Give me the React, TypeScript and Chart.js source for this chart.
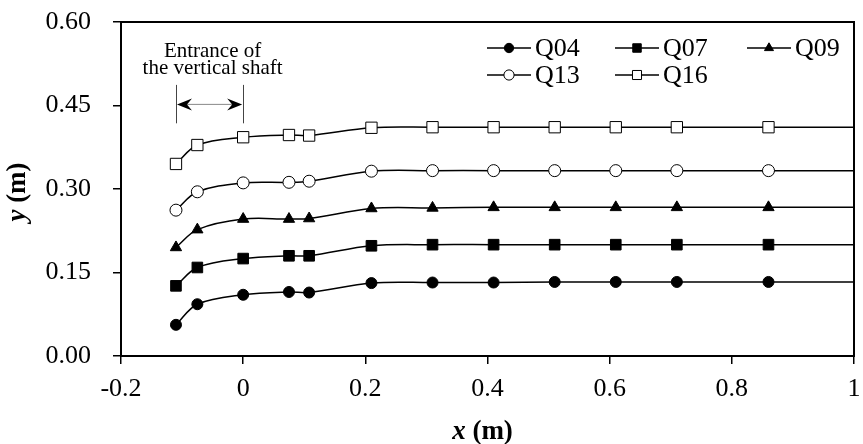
import React, { useEffect, useRef } from "react";
import { Chart, registerables } from "chart.js";

Chart.register(...registerables);

const xValues = [-0.11, -0.075, 0, 0.075, 0.108, 0.21, 0.31, 0.41, 0.51, 0.61, 0.71, 0.86, 1.0];
const q04 = [0.056, 0.093, 0.110, 0.115, 0.114, 0.131, 0.132, 0.132, 0.133, 0.133, 0.133, 0.133, 0.133];
const q07 = [0.126, 0.159, 0.175, 0.180, 0.180, 0.198, 0.200, 0.200, 0.200, 0.200, 0.200, 0.200, 0.200];
const q09 = [0.195, 0.227, 0.246, 0.246, 0.247, 0.265, 0.266, 0.267, 0.267, 0.267, 0.267, 0.267, 0.267];
const q13 = [0.262, 0.295, 0.311, 0.312, 0.314, 0.332, 0.333, 0.333, 0.333, 0.333, 0.333, 0.333, 0.333];
const q16 = [0.345, 0.379, 0.393, 0.397, 0.396, 0.410, 0.411, 0.411, 0.411, 0.411, 0.411, 0.411, 0.411];
const seriesNames = ["Q04", "Q07", "Q09", "Q13", "Q16"];
const xTicks = [-0.2, 0, 0.2, 0.4, 0.6, 0.8, 1.0];
const yTicks = [0, 0.15, 0.3, 0.45, 0.6];
const annotationLines = ["Entrance of", "the vertical shaft"];
const entranceRange = [-0.11, 0];

const FONT = '"Liberation Serif", "Times New Roman", serif';

type Style = { pointStyle: string; radius: number; fill: string };
const styles: Style[] = [
  { pointStyle: "circle", radius: 5.5, fill: "#000" },
  { pointStyle: "rect", radius: 7.5, fill: "#000" },
  { pointStyle: "triangle", radius: 6.5, fill: "#000" },
  { pointStyle: "circle", radius: 6, fill: "#fff" },
  { pointStyle: "rect", radius: 8, fill: "#fff" },
];

const seriesValues = [q04, q07, q09, q13, q16];

function drawMarker(ctx: CanvasRenderingContext2D, st: Style, x: number, y: number, r: number) {
  ctx.save();
  ctx.fillStyle = st.fill;
  ctx.strokeStyle = "#000";
  ctx.lineWidth = 1;
  ctx.beginPath();
  if (st.pointStyle === "circle") {
    ctx.arc(x, y, r, 0, Math.PI * 2);
  } else if (st.pointStyle === "rect") {
    const s = r / Math.SQRT2;
    ctx.rect(x - s, y - s, 2 * s, 2 * s);
  } else {
    const a = (2 * Math.PI) / 3;
    ctx.moveTo(x, y - r);
    ctx.lineTo(x + Math.sin(a) * r, y - Math.cos(a) * r);
    ctx.lineTo(x + Math.sin(2 * a) * r, y - Math.cos(2 * a) * r);
    ctx.closePath();
  }
  ctx.fill();
  ctx.stroke();
  ctx.restore();
}

const decorPlugin = {
  id: "decor",
  afterDraw(chart: any) {
    const ctx: CanvasRenderingContext2D = chart.ctx;
    const ca = chart.chartArea;
    const xs = chart.scales.x;
    const ys = chart.scales.y;
    ctx.save();
    // frame
    ctx.strokeStyle = "#000";
    ctx.lineWidth = 2;
    ctx.strokeRect(ca.left, ca.top, ca.right - ca.left, ca.bottom - ca.top);

    // legend
    const colX = [487, 615, 747];
    const rowY = [48, 75];
    seriesNames.forEach((name, i) => {
      const col = i < 3 ? i : i - 3;
      const row = i < 3 ? 0 : 1;
      const x0 = colX[col];
      const y0 = rowY[row];
      ctx.strokeStyle = "#000";
      ctx.lineWidth = 1.5;
      ctx.beginPath();
      ctx.moveTo(x0, y0);
      ctx.lineTo(x0 + 44, y0);
      ctx.stroke();
      const st = styles[i];
      drawMarker(ctx, st, x0 + 22, y0, st.radius * (st.pointStyle === "circle" ? 0.85 : 0.8));
      ctx.fillStyle = "#000";
      ctx.font = `26px ${FONT}`;
      ctx.textBaseline = "middle";
      ctx.textAlign = "left";
      ctx.fillText(name, x0 + 48, y0 + 1);
    });

    // annotation
    const xa = xs.getPixelForValue(entranceRange[0]);
    const xb = xs.getPixelForValue(entranceRange[1]);
    const yTop = ys.getPixelForValue(0.487);
    const yBot = ys.getPixelForValue(0.418);
    const yArr = ys.getPixelForValue(0.452);
    ctx.strokeStyle = "#444";
    ctx.lineWidth = 1;
    [xa, xb].forEach((x) => {
      ctx.beginPath();
      ctx.moveTo(Math.round(x) + 0.5, yTop);
      ctx.lineTo(Math.round(x) + 0.5, yBot);
      ctx.stroke();
    });
    ctx.strokeStyle = "#888";
    ctx.beginPath();
    ctx.moveTo(xa + 8, yArr);
    ctx.lineTo(xb - 8, yArr);
    ctx.stroke();
    ctx.fillStyle = "#000";
    const head = (tip: number, dir: number) => {
      ctx.beginPath();
      ctx.moveTo(tip, yArr);
      ctx.lineTo(tip + dir * 15, yArr - 6);
      ctx.lineTo(tip + dir * 10, yArr);
      ctx.lineTo(tip + dir * 15, yArr + 6);
      ctx.closePath();
      ctx.fill();
    };
    head(xa + 1, 1);
    head(xb - 1, -1);
    ctx.font = `21px ${FONT}`;
    ctx.textAlign = "center";
    ctx.textBaseline = "alphabetic";
    const cx = (xa + xb) / 2 + 3;
    ctx.fillText(annotationLines[0], cx, 57);
    ctx.fillText(annotationLines[1], cx, 74);

    // axis titles
    const drawTitle = (cxp: number, cyp: number, rot: number, v: string) => {
      ctx.save();
      ctx.translate(cxp, cyp);
      ctx.rotate(rot);
      ctx.textBaseline = "middle";
      ctx.textAlign = "left";
      ctx.font = `italic bold 27px ${FONT}`;
      const w1 = ctx.measureText(v).width;
      ctx.font = `bold 27px ${FONT}`;
      const w2 = ctx.measureText(" (m)").width;
      const start = -(w1 + w2) / 2;
      ctx.font = `italic bold 27px ${FONT}`;
      ctx.fillText(v, start, 0);
      ctx.font = `bold 27px ${FONT}`;
      ctx.fillText(" (m)", start + w1, 0);
      ctx.restore();
    };
    drawTitle((ca.left + ca.right) / 2 - 5, 432, 0, "x");
    drawTitle(18, (ca.top + ca.bottom) / 2 + 3, -Math.PI / 2, "y");
    ctx.restore();
  },
};

export default function App() {
  const ref = useRef<HTMLCanvasElement | null>(null);
  useEffect(() => {
    if (!ref.current) return;
    const n = xValues.length;
    const datasets = seriesValues.map((vals, i) => {
      const st = styles[i];
      return {
        label: seriesNames[i],
        data: xValues.map((x, k) => ({ x, y: vals[k] })),
        borderColor: "#000",
        borderWidth: 1.5,
        backgroundColor: st.fill,
        pointBackgroundColor: st.fill,
        pointBorderColor: "#000",
        pointBorderWidth: 1,
        pointStyle: st.pointStyle,
        pointRadius: xValues.map((_, k) => (k === n - 1 ? 0 : st.radius)),
        tension: 0.35,
        fill: false,
      };
    });
    const chart = new Chart(ref.current, {
      type: "line",
      data: { datasets: datasets as any },
      plugins: [decorPlugin],
      options: {
        animation: false,
        responsive: true,
        maintainAspectRatio: false,
        layout: { padding: { top: 22, right: 3, left: 0, bottom: 0 } },
        plugins: { legend: { display: false }, tooltip: { enabled: false } },
        scales: {
          x: {
            type: "linear",
            min: -0.2,
            max: 1.0,
            afterBuildTicks: (s: any) => {
              s.ticks = xTicks.map((v) => ({ value: v }));
            },
            afterFit: (s: any) => {
              s.height = 88;
              s.paddingLeft = 0;
              s.paddingRight = 0;
            },
            ticks: {
              color: "#000",
              font: { family: FONT, size: 26 },
              padding: 10,
              maxRotation: 0,
              callback: (v: any) => String(Math.round(v * 10) / 10),
            },
            grid: { drawOnChartArea: false, drawTicks: true, tickLength: 8, color: "#000", lineWidth: 1.5 },
            border: { display: true, color: "#000", width: 2 },
          },
          y: {
            type: "linear",
            min: 0,
            max: 0.6,
            afterBuildTicks: (s: any) => {
              s.ticks = yTicks.map((v) => ({ value: v }));
            },
            afterFit: (s: any) => {
              s.width = 121;
              s.paddingTop = 0;
              s.paddingBottom = 0;
            },
            ticks: {
              color: "#000",
              font: { family: FONT, size: 26 },
              padding: 22,
              callback: (v: any) => Number(v).toFixed(2),
            },
            grid: { drawOnChartArea: false, drawTicks: true, tickLength: 8, color: "#000", lineWidth: 1.5 },
            border: { display: true, color: "#000", width: 2 },
          },
        },
      },
    });
    return () => chart.destroy();
  }, []);
  return (
    <div style={{ position: "fixed", left: 0, top: 0, width: 863, height: 444, background: "#fff" }}>
      <canvas ref={ref} />
    </div>
  );
}
